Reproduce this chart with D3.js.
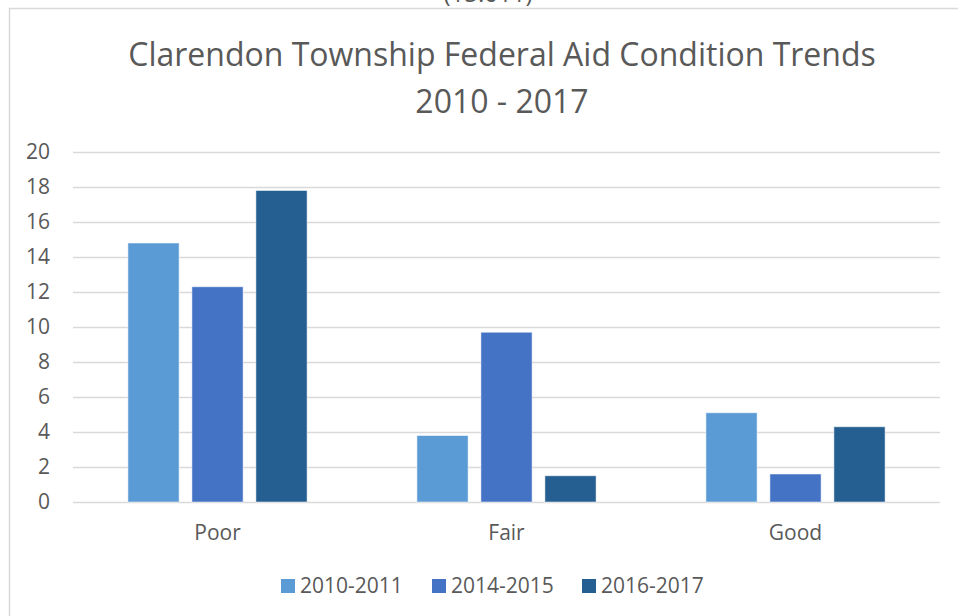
<!DOCTYPE html>
<html>
<head>
<meta charset="utf-8">
<script src="https://cdn.jsdelivr.net/npm/d3@7"></script>
<style>
  body { margin: 0; background: #fff; }
  text { font-family: "Open Sans", "Noto Sans", sans-serif; fill: #595959; }
</style>
</head>
<body>
<svg width="958" height="616"></svg>
<script>
var categories = ["Poor", "Fair", "Good"];
var seriesNames = ["2010-2011", "2014-2015", "2016-2017"];
var values2010 = [14.8, 3.8, 5.1];
var values2014 = [12.3, 9.7, 1.6];
var values2016 = [17.8, 1.5, 4.3];
var yTicks = [0, 2, 4, 6, 8, 10, 12, 14, 16, 18, 20];
var colors = ["#5b9bd5", "#4472c4", "#255e91"];

var svg = d3.select("svg"),
    width = +svg.attr("width"),
    height = +svg.attr("height");

var margin = {top: 152, right: 18, bottom: 114, left: 73},
    w = width - margin.left - margin.right,
    h = height - margin.top - margin.bottom;

// text cut off above the chart box, as in the source
svg.append("text")
  .attr("x", 488)
  .attr("y", 2)
  .attr("text-anchor", "middle")
  .style("font-size", "24px")
  .text("(15.011)");

// chart border (only top and left are in frame)
svg.append("path")
  .attr("d", "M9.5,616 L9.5,8.5 L958,8.5")
  .attr("fill", "none")
  .attr("stroke", "#d9d9d9")
  .attr("stroke-width", 1.5);

var title = svg.append("text")
  .attr("text-anchor", "middle")
  .style("font-size", "32px");
title.append("tspan").attr("x", 502).attr("y", 66).text("Clarendon Township Federal Aid Condition Trends");
title.append("tspan").attr("x", 502).attr("y", 113).text("2010 - 2017");

var g = svg.append("g")
  .attr("transform", "translate(" + margin.left + "," + margin.top + ")");

var data = categories.map(function(c, i) {
  return {cat: c, vals: [values2010[i], values2014[i], values2016[i]]};
});

var x0 = d3.scaleBand()
  .domain(categories)
  .range([0, w])
  .paddingInner(0.38)
  .paddingOuter(0.19);

var x1 = d3.scaleBand()
  .domain(seriesNames)
  .range([0, x0.bandwidth()])
  .paddingInner(0.2);

var y = d3.scaleLinear()
  .domain([0, 20])
  .range([h, 0]);

var yAxis = g.append("g")
  .call(d3.axisLeft(y).tickValues(yTicks).tickSize(-w).tickPadding(23));
yAxis.select(".domain").remove();
yAxis.selectAll("line").attr("stroke", "#d9d9d9").attr("stroke-width", 1.5);
yAxis.selectAll("text").style("font-size", "21px").attr("fill", "#595959");

var groups = g.selectAll(".group")
  .data(data)
  .enter().append("g")
  .attr("class", "group")
  .attr("transform", function(d) { return "translate(" + x0(d.cat) + ",0)"; });

groups.selectAll("rect")
  .data(function(d) { return d.vals.map(function(v, i) { return {s: seriesNames[i], v: v, i: i}; }); })
  .enter().append("rect")
  .attr("x", function(d) { return x1(d.s); })
  .attr("y", function(d) { return y(d.v); })
  .attr("width", x1.bandwidth())
  .attr("height", function(d) { return h - y(d.v); })
  .attr("fill", function(d) { return colors[d.i]; })
  .attr("stroke", "#ffffff")
  .attr("stroke-opacity", 0.5)
  .attr("stroke-width", 1);

var xAxis = g.append("g")
  .attr("transform", "translate(0," + h + ")")
  .call(d3.axisBottom(x0).tickSize(0).tickPadding(23));
xAxis.select(".domain").remove();
xAxis.selectAll("text").style("font-size", "21px").attr("fill", "#595959");

// legend
var legendX = [281, 432, 582];
var legend = svg.append("g");
seriesNames.forEach(function(s, i) {
  legend.append("rect")
    .attr("x", legendX[i])
    .attr("y", 579)
    .attr("width", 14)
    .attr("height", 14)
    .attr("fill", colors[i]);
  legend.append("text")
    .attr("x", legendX[i] + 19)
    .attr("y", 593)
    .style("font-size", "21px")
    .text(s);
});
</script>
</body>
</html>
